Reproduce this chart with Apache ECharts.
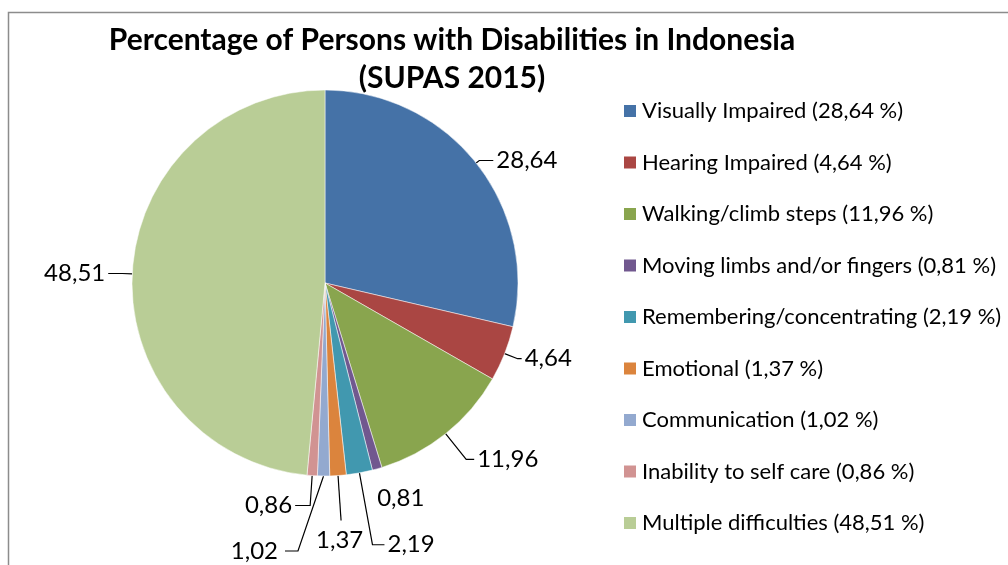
<!DOCTYPE html>
<html>
<head>
<meta charset="utf-8">
<script src="https://cdn.jsdelivr.net/npm/echarts@6/dist/echarts.min.js"></script>
<style>
  html, body { margin: 0; padding: 0; background: #fff; }
  #main { width: 1008px; height: 565px; }
</style>
</head>
<body>
<div id="main"></div>
<script>
// 数据
var categories = ['Visually Impaired', 'Hearing Impaired', 'Walking/climb steps',
  'Moving limbs and/or fingers', 'Remembering/concentrating', 'Emotional',
  'Communication', 'Inability to self care', 'Multiple difficulties'];
var percents = [28.64, 4.64, 11.96, 0.81, 2.19, 1.37, 1.02, 0.86, 48.51];
var colors = ['#4572A7', '#AA4643', '#89A54E', '#71588F', '#4198AF',
  '#DB843D', '#93A9CF', '#D19392', '#B9CD96'];

// 标签引导线长度 (每个扇区单独调一下, 模仿 Excel 的摆放)
var lineLen = [4, 14, 33, 26, 73, 45, 75, 30, 10];
var lineLen2 = [14, 4, 8, 0, 12, 0, 0, 15, 14];

function fmt(v) {
  return v.toFixed(2).replace('.', ',');
}

var pieData = categories.map(function (name, i) {
  return {
    name: name,
    value: percents[i],
    labelLine: {
      show: i !== 3,
      length: lineLen[i],
      length2: lineLen2[i]
    }
  };
});

var myChart = echarts.init(document.getElementById('main'));

var option = {
  color: colors,
  textStyle: { fontFamily: 'Lato' },
  title: {
    text: 'Percentage of Persons with Disabilities in Indonesia\n(SUPAS 2015)',
    left: 447,
    top: 16,
    textAlign: 'center',
    textStyle: {
      fontFamily: 'Lato',
      fontSize: 30,
      fontWeight: 'bold',
      color: '#000',
      lineHeight: 38,
      align: 'center'
    }
  },
  legend: {
    orient: 'vertical',
    left: 617,
    top: 95,
    icon: 'rect',
    itemWidth: 14,
    itemHeight: 14,
    itemGap: 29.5,
    textStyle: { fontFamily: 'Lato', fontSize: 22, color: '#000', lineHeight: 22 },
    formatter: function (name) {
      var i = categories.indexOf(name);
      return name + ' (' + fmt(percents[i]) + ' %)';
    },
    data: categories
  },
  graphic: [{
    type: 'rect',
    shape: { x: 8.5, y: 12.5, width: 1200, height: 800 },
    style: { fill: 'none', stroke: '#8c8c8c', lineWidth: 1.5 },
    silent: true
  }],
  series: [{
    type: 'pie',
    center: [325, 283],
    radius: 193,
    startAngle: 90,
    clockwise: true,
    animation: false,
    avoidLabelOverlap: false,
    itemStyle: { borderColor: '#fff', borderWidth: 0.5 },
    label: {
      show: true,
      position: 'outside',
      fontFamily: 'Lato',
      fontSize: 24,
      color: '#000',
      distanceToLabelLine: 3,
      formatter: function (p) { return fmt(p.value); }
    },
    labelLine: {
      show: true,
      lineStyle: { color: '#000', width: 1.2 }
    },
    // 小扇区的标签挪一下 (Excel 的样子)
    labelLayout: function (params) {
      var pts = params.labelLinePoints;
      if (params.dataIndex === 3) {
        return { dx: -10, dy: 4, hideOverlap: false };
      }
      if (params.dataIndex === 5) {
        return { dx: -28, dy: 20, hideOverlap: false };
      }
      if (params.dataIndex === 6 && pts) {
        return {
          dx: -42,
          hideOverlap: false,
          labelLinePoints: [pts[0], [pts[1][0] - 25, pts[1][1]], [pts[2][0] - 38, pts[2][1]]]
        };
      }
      return { hideOverlap: false };
    },
    emphasis: { disabled: true },
    data: pieData
  }]
};

myChart.setOption(option);
</script>
</body>
</html>
